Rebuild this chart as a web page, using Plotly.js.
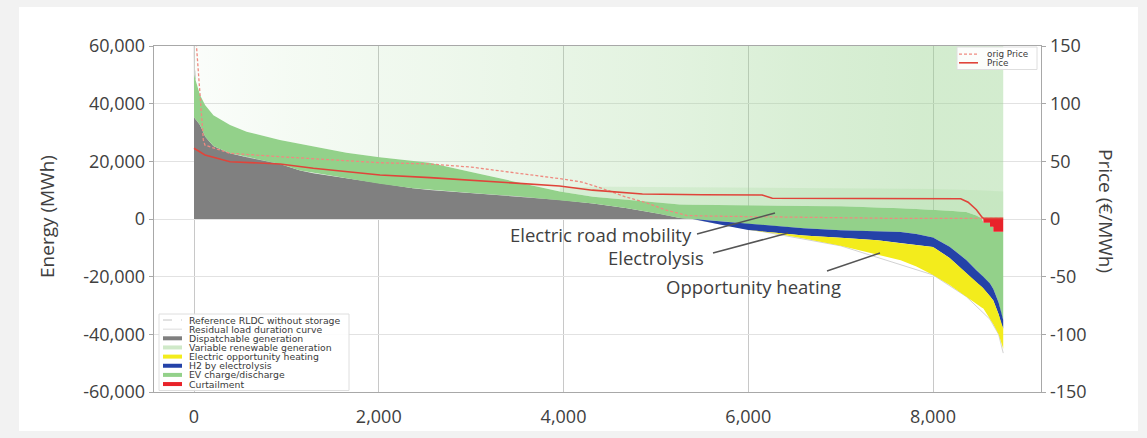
<!DOCTYPE html>
<html>
<head>
<meta charset="utf-8">
<script src="https://cdn.plot.ly/plotly-3.0.1.min.js"></script>
<style>
html,body{margin:0;padding:0;background:#f2f2f2;}
#chart{width:1147px;height:438px;}
</style>
</head>
<body>
<div id="chart"></div>
<script>
// ---------------- DATA ----------------
// hour of the year (sorted duration axis)
const hours = [0, 65, 120, 210, 390, 570, 930, 1150, 1290, 1650,
  2010, 2370, 2550, 3000, 3500, 3960, 4320, 4690, 5045, 5260,
  5400, 5600, 5800, 6000, 6300, 6600, 7000, 7400, 7650, 7820,
  8000, 8180, 8360, 8470, 8530, 8545, 8617, 8617, 8653, 8653,
  8710, 8740, 8760];
// dispatchable generation (MWh), top of grey area
const dispatchable = [35300, 32600, 28600, 25300, 22800, 21400, 19100, 16800, 15900, 14150,
  12200, 10700, 10100, 9000, 7900, 6600, 5400, 3700, 1700, 350,
  0, 0, 0, 0, 0, 0, 0, 0, 0, 0,
  0, 0, 0, 0, 0, 0, 0, 0, 0, 0,
  0, 0, 0];
// upper edge of EV charge/discharge band (MWh)
const evTop = [50000, 43000, 39500, 36000, 32600, 30300, 27400, 26000, 25100, 23000,
  21400, 20200, 19500, 16300, 12800, 9500, 7700, 6600, 5400, 5000,
  4900, 4800, 4700, 4600, 4600, 4500, 4400, 4100, 3700, 3500,
  3300, 2900, 2400, 1200, 200, -1270, -1270, -2660, -2660, -4390,
  -4390, -4390, -4390];
// upper edge of H2 by electrolysis band (MWh)
const h2Top = [0, 0, 0, 0, 0, 0, 0, 0, 0, 0,
  0, 0, 0, 0, 0, 0, 0, 0, 0, 0,
  0, -500, -1000, -1700, -2500, -3200, -3900, -4300, -4500, -5200,
  -6400, -9600, -14200, -17800, -19500, -20000, -22400, -22400, -24300, -24300,
  -29000, -33000, -35000];
// lower edge of H2 band = upper edge of opportunity heating (MWh)
const h2Bottom = [0, 0, 0, 0, 0, 0, 0, 0, 0, 0,
  0, 0, 0, 0, 0, 0, 0, 0, 0, 0,
  0, -1200, -2600, -3800, -4800, -5700, -6500, -7400, -8400, -9000,
  -9700, -13500, -18800, -22000, -23600, -24000, -26800, -26800, -28300, -28300,
  -33000, -36500, -38000];
// lower edge of electric opportunity heating (MWh)
const heatBottom = [0, 0, 0, 0, 0, 0, 0, 0, 0, 0,
  0, 0, 0, 0, 0, 0, 0, 0, 0, 0,
  0, -1200, -2600, -3800, -5000, -6800, -9300, -12300, -14300, -16500,
  -19400, -22900, -26900, -29500, -30800, -31000, -34800, -34800, -36500, -36500,
  -40000, -43000, -45000];
// curtailment
const curtailHours = [8530, 8545, 8545, 8617, 8617, 8653, 8653, 8760];
const curtailment  = [0, 0, -1270, -1270, -2660, -2660, -4390, -4390];
// variable renewable generation: spike envelope and dense lower band
const vreSpikeHours = [0, 8760];
const vreSpikeTop   = [60000, 60000];
const vreBandHours = [3960, 4500, 5000, 5500, 6000, 7000, 8000, 8500, 8760];
const vreBandTop   = [11000, 11200, 11200, 11000, 10800, 10600, 10400, 10000, 9500];
// residual load duration curves
const rldcHours  = [0, 5, 30, 120, 570, 2010, 3960, 5400, 7000, 8000, 8360, 8617, 8710, 8760];
const rldcValues = [66000, 45000, 34000, 28600, 21400, 12200, 6600, 0, -9300, -19400, -26900, -34800, -40000, -46500];
const refHours  = [0, 8, 40, 120];
const refValues = [64000, 52000, 36000, 28500];
// prices (EUR/MWh)
const priceHours = [0, 30, 119, 390, 931, 1292, 2014, 2555, 3000, 3500, 3957, 4313, 4680, 4854, 5500, 6150, 6260, 8000, 8300, 8380, 8470, 8530, 8550, 8760];
const price      = [61.3, 60, 55.5, 49.7, 47.7, 44, 38.2, 35.9, 33.5, 31, 28.6, 25, 22.5, 21.7, 21, 20.8, 18, 18, 17.5, 14.5, 8, 1.5, 0.5, 0.5];
const origHours = [0, 25, 101, 119, 390, 931, 2014, 2555, 3000, 3500, 3957, 4200, 4400, 4680, 4900, 5100, 5340, 5600, 7600, 8760];
const origPrice = [200, 152, 68.5, 64, 57, 54, 48.8, 47.7, 45, 40, 35, 32, 27, 19, 14, 8, 3, 2.5, 0.5, 0.5];
// ticks
const xTickVals = [0, 2000, 4000, 6000, 8000];
const xTickText = ['0', '2,000', '4,000', '6,000', '8,000'];
const yTickVals = [-60000, -40000, -20000, 0, 20000, 40000, 60000];
const yTickText = ['-60,000', '-40,000', '-20,000', '0', '20,000', '40,000', '60,000'];
const pTickVals = [-150, -100, -50, 0, 50, 100, 150];
const pTickText = ['-150', '-100', '-50', '0', '50', '100', '150'];
// texts
const legendLabels = ['Reference RLDC without storage', 'Residual load duration curve', 'Dispatchable generation',
  'Variable renewable generation', 'Electric opportunity heating', 'H2 by electrolysis', 'EV charge/discharge', 'Curtailment'];
const priceLegendLabels = ['orig Price', 'Price'];
const calloutLabels = ['Electric road mobility', 'Electrolysis', 'Opportunity heating'];
const yTitle = 'Energy (MWh)';
const y2Title = 'Price (€/MWh)';

// ---------------- helpers ----------------
function poly(xs, upper, lower) {
  return { x: xs.concat(xs.slice().reverse()), y: upper.concat(lower.slice().reverse()) };
}
function pick(arr, idx) { return idx.map(i => arr[i]); }

const negIdx = hours.map((h, i) => i).filter(i => hours[i] >= 5400);
const bandIdx = hours.map((h, i) => i).filter(i => hours[i] >= 3960);
const evLower = hours.map((h, i) => dispatchable[i] + h2Top[i]);
const evTopPos = evTop.map(v => Math.max(v, 0));
const zeros = hours.map(() => 0);

const traces = [];
// residual load lines (beneath the areas)
traces.push({x: refHours, y: refValues, mode: 'lines', line: {color: '#c4c4c4', width: 1, dash: 'dash'}, hoverinfo: 'skip'});
traces.push({x: rldcHours, y: rldcValues, mode: 'lines', line: {color: '#d2d2d2', width: 1}, hoverinfo: 'skip'});

// VRE spikes (faint, density increasing to the right)
(function () {
  const p = { x: hours.concat(vreSpikeHours.slice().reverse()), y: evTopPos.concat(vreSpikeTop.slice().reverse()) };
  traces.push({x: p.x, y: p.y, mode: 'lines', line: {width: 0}, fill: 'toself',
    fillcolor: 'rgba(150,210,140,0.2)',
    fillgradient: {type: 'horizontal', start: 0, stop: 8760, colorscale: [
      [0, 'rgba(150,210,140,0.04)'], [0.12, 'rgba(150,210,140,0.10)'], [0.3, 'rgba(150,210,140,0.16)'],
      [0.45, 'rgba(150,210,140,0.22)'], [0.6, 'rgba(150,210,140,0.28)'], [0.75, 'rgba(150,210,140,0.36)'],
      [0.9, 'rgba(150,210,140,0.42)'], [1, 'rgba(150,210,140,0.42)']]},
    hoverinfo: 'skip'});
})();
// VRE dense band
(function () {
  const xs = pick(hours, bandIdx), lo = pick(evTopPos, bandIdx);
  traces.push({x: xs.concat(vreBandHours.slice().reverse()), y: lo.concat(vreBandTop.slice().reverse()),
    mode: 'lines', line: {width: 0}, fill: 'toself', fillcolor: 'rgba(160,215,150,0.22)', hoverinfo: 'skip'});
})();
// dispatchable
(function () {
  const p = poly(hours, dispatchable, zeros);
  traces.push({x: p.x, y: p.y, mode: 'lines', line: {width: 0}, fill: 'toself', fillcolor: '#808080', hoverinfo: 'skip'});
})();
// EV charge/discharge
(function () {
  const p = poly(hours, evTop, evLower);
  traces.push({x: p.x, y: p.y, mode: 'lines', line: {width: 0}, fill: 'toself', fillcolor: '#93d18a', hoverinfo: 'skip'});
})();
// H2 by electrolysis
(function () {
  const xs = pick(hours, negIdx);
  const p = poly(xs, pick(h2Top, negIdx), pick(h2Bottom, negIdx));
  traces.push({x: p.x, y: p.y, mode: 'lines', line: {width: 0}, fill: 'toself', fillcolor: '#2442a8', hoverinfo: 'skip'});
})();
// Electric opportunity heating
(function () {
  const xs = pick(hours, negIdx);
  const p = poly(xs, pick(h2Bottom, negIdx), pick(heatBottom, negIdx));
  traces.push({x: p.x, y: p.y, mode: 'lines', line: {width: 0}, fill: 'toself', fillcolor: '#f3ec1c', hoverinfo: 'skip'});
})();
// Curtailment
traces.push({x: curtailHours.concat([curtailHours[curtailHours.length - 1], curtailHours[0]]),
  y: curtailment.concat([0, 0]), mode: 'lines', line: {width: 0}, fill: 'toself', fillcolor: '#e8232a', hoverinfo: 'skip'});
// prices
traces.push({x: origHours, y: origPrice, yaxis: 'y2', mode: 'lines', line: {color: '#ef8a80', width: 1.3, dash: '3px,2px'}, hoverinfo: 'skip'});
traces.push({x: priceHours, y: price, yaxis: 'y2', mode: 'lines', line: {color: '#e0443a', width: 1.6}, hoverinfo: 'skip'});

// ---------------- layout helpers (pixel -> paper) ----------------
const L = 154, R = 1041, T = 46, B = 392;
const px = x => (x - L) / (R - L);
const py = y => (B - y) / (B - T);

const shapes = [];
const annotations = [];
// white panel
shapes.push({type: 'rect', xref: 'paper', yref: 'paper', x0: px(19), x1: px(1138), y0: py(431), y1: py(7),
  fillcolor: '#ffffff', line: {width: 0}, layer: 'below'});

// main legend (bottom-left)
shapes.push({type: 'rect', xref: 'paper', yref: 'paper', x0: px(159), x1: px(349), y0: py(390.5), y1: py(314),
  fillcolor: 'rgba(255,255,255,0.9)', line: {color: '#dedede', width: 1}});
const legStyles = [
  {color: '#c4c4c4', width: 1, dash: 'dash'},
  {color: '#dcdcdc', width: 1, dash: 'solid'},
  {color: '#7f7f7f', width: 4, dash: 'solid'},
  {color: '#cfe9c8', width: 4, dash: 'solid'},
  {color: '#f3ec1c', width: 4, dash: 'solid'},
  {color: '#2442a8', width: 4, dash: 'solid'},
  {color: '#93d18a', width: 4, dash: 'solid'},
  {color: '#e8232a', width: 4, dash: 'solid'}
];
legendLabels.forEach((lab, i) => {
  const yy = 320 + i * 9.15;
  const s = legStyles[i];
  shapes.push({type: 'line', xref: 'paper', yref: 'paper', x0: px(163), x1: px(182), y0: py(yy), y1: py(yy),
    line: {color: s.color, width: s.width, dash: s.dash}});
  annotations.push({xref: 'paper', yref: 'paper', x: px(188), y: py(yy), xanchor: 'left', yanchor: 'middle',
    text: lab, showarrow: false, borderpad: 0, font: {family: 'DejaVu Sans', size: 9.3, color: '#3a3a3a'}});
});
// price legend (top-right)
shapes.push({type: 'rect', xref: 'paper', yref: 'paper', x0: px(957), x1: px(1037), y0: py(69.5), y1: py(47),
  fillcolor: 'rgba(255,255,255,0.9)', line: {color: '#dedede', width: 1}});
const pLegStyles = [{color: '#ef8a80', width: 1.3, dash: '3px,2px'}, {color: '#e0443a', width: 1.6, dash: 'solid'}];
priceLegendLabels.forEach((lab, i) => {
  const yy = 54.2 + i * 8.6;
  const s = pLegStyles[i];
  shapes.push({type: 'line', xref: 'paper', yref: 'paper', x0: px(959), x1: px(978), y0: py(yy), y1: py(yy),
    line: {color: s.color, width: s.width, dash: s.dash}});
  annotations.push({xref: 'paper', yref: 'paper', x: px(986), y: py(yy), xanchor: 'left', yanchor: 'middle',
    text: lab, showarrow: false, borderpad: 0, font: {family: 'DejaVu Sans', size: 8.8, color: '#3a3a3a'}});
});

// callouts
const callouts = [
  {textRight: 693, textY: 234, l: [697, 234, 775, 213]},
  {textRight: 705, textY: 257, l: [713, 253, 788, 233]},
  {textRight: 842, textY: 286, l: [827, 271, 880, 253]}
];
callouts.forEach((c, i) => {
  shapes.push({type: 'line', xref: 'paper', yref: 'paper', x0: px(c.l[0]), y0: py(c.l[1]), x1: px(c.l[2]), y1: py(c.l[3]),
    line: {color: '#555555', width: 1.5}});
  annotations.push({xref: 'paper', yref: 'paper', x: px(c.textRight), y: py(c.textY), xanchor: 'right', yanchor: 'middle',
    text: calloutLabels[i], showarrow: false, borderpad: 0, font: {family: 'Open Sans', size: 18.5, color: '#404040'}});
});
// axis titles
annotations.push({xref: 'paper', yref: 'paper', x: px(47), y: py(217), xanchor: 'center', yanchor: 'middle',
  text: yTitle, textangle: -90, showarrow: false, font: {family: 'Open Sans', size: 19, color: '#404040'}});
annotations.push({xref: 'paper', yref: 'paper', x: px(1106), y: py(211), xanchor: 'center', yanchor: 'middle',
  text: y2Title, textangle: 90, showarrow: false, font: {family: 'Open Sans', size: 19, color: '#404040'}});

const tickFont = {family: 'Open Sans', size: 18, color: '#404040'};
const layout = {
  width: 1147, height: 438,
  paper_bgcolor: '#f2f2f2', plot_bgcolor: 'rgba(0,0,0,0)',
  margin: {l: L, r: 1147 - R, t: T, b: 438 - B, pad: 0},
  showlegend: false,
  xaxis: {range: [-433, 9169], tickmode: 'array', tickvals: xTickVals, ticktext: xTickText,
    showgrid: true, gridcolor: '#c8c8c8', gridwidth: 1, zeroline: false,
    showline: true, mirror: true, linecolor: '#a8a8a8', linewidth: 1.3,
    ticks: 'outside', ticklen: 8, tickcolor: 'rgba(0,0,0,0)', tickfont: tickFont},
  yaxis: {range: [-60000, 60000], tickmode: 'array', tickvals: yTickVals, ticktext: yTickText,
    showgrid: true, gridcolor: '#e2e2e2', gridwidth: 1, zeroline: false,
    showline: true, linecolor: '#a8a8a8', linewidth: 1.3,
    ticks: 'outside', ticklen: 4, tickcolor: '#a8a8a8', tickfont: tickFont},
  yaxis2: {overlaying: 'y', side: 'right', range: [-150, 150], tickmode: 'array', tickvals: pTickVals, ticktext: pTickText,
    showgrid: false, zeroline: false, showline: true, linecolor: '#a8a8a8', linewidth: 1.3,
    ticks: 'outside', ticklen: 4, tickcolor: '#a8a8a8', tickfont: tickFont},
  shapes: shapes,
  annotations: annotations
};

Plotly.newPlot('chart', traces, layout, {staticPlot: true, displayModeBar: false});
</script>
</body>
</html>
